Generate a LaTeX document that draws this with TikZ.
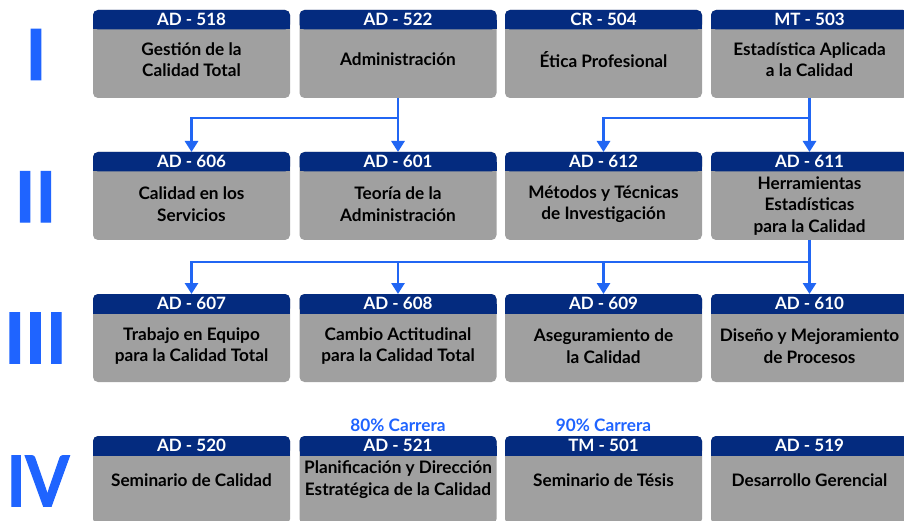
\documentclass[tikz,border=0pt]{standalone}
\usepackage{fontspec}
\setmainfont{Lato}
\newfontfamily\romanfont{Lato}[BoldFeatures={FakeBold=1.6}]
\usetikzlibrary{arrows.meta}
\definecolor{navy}{RGB}{4,43,127}
\definecolor{boxgray}{RGB}{160,160,160}
\definecolor{arrblue}{RGB}{33,102,243}
\definecolor{numblue}{RGB}{31,100,255}
\tikzset{
  cbody/.style={fill=boxgray, rounded corners=5pt, minimum width=197pt, minimum height=88pt, inner sep=0pt, outer sep=0pt, anchor=north},
  chead/.style={fill=navy, rounded corners=5pt, minimum width=197pt, minimum height=19.5pt, inner sep=0pt, outer sep=0pt, anchor=north, text=white, font=\fontsize{17}{20}\selectfont\bfseries},
  ctitle/.style={align=center, inner sep=0pt, text=black, font=\fontsize{17.2}{21.5}\selectfont\bfseries},
  roman/.style={text=numblue, inner sep=0pt, font=\fontsize{70}{70}\selectfont\romanfont\bfseries},
  note/.style={text=numblue, inner sep=0pt, font=\fontsize{17.2}{20}\selectfont\bfseries},
  conn/.style={draw=arrblue, line width=2.8pt, -{Triangle[width=13pt,length=11pt]}}
}
\newcommand\course[6][52]{%
  \node[cbody] (#2) at (#3,#4) {};
  \fill[navy] (#3-98.5,#4+10) rectangle (#3+98.5,#4+19.5);
  \node[chead] (#2h) at (#3,#4) {#5};
  \node[ctitle] (#2t) at (#3,#4+#1) {#6};
}
\begin{document}
\begin{tikzpicture}[x=1pt,y=-1pt]
\useasboundingbox (0,0) rectangle (904,521);
\clip (0,0) rectangle (904,521);
\fill[white] (0,0) rectangle (904,521);
% roman numerals
\node[roman] (r1) at (36,54.5) {I};
\node[roman] (r2) at (35.5,196.7) {II};
\node[roman] (r3) at (35.5,338) {III};
\node[roman, xscale=0.9, transform shape] (r4) at (38,481) {IV};
% row I
\course[49.5]{c518}{191.5}{10}{AD - 518}{Gestión de la\\Calidad Total}
\course[49.5]{c522}{398}{10}{AD - 522}{Administración}
\course[49.5]{c504}{603.5}{10}{CR - 504}{Ética Profesional}
\course[49.5]{c503}{809.5}{10}{MT - 503}{Estadística Aplicada\\a la Calidad}
% row II
\course{c606}{191.5}{152}{AD - 606}{Calidad en los\\Servicios}
\course{c601}{398}{152}{AD - 601}{Teoría de la\\Administración}
\course{c612}{603.5}{152}{AD - 612}{Métodos y Técnicas\\de Investigación}
\course[54]{c611}{809.5}{152}{AD - 611}{Herramientas\\Estadísticas\\para la Calidad}
% row III
\course{c607}{191.5}{294}{AD - 607}{Trabajo en Equipo\\para la Calidad Total}
\course{c608}{398}{294}{AD - 608}{Cambio Actitudinal\\para la Calidad Total}
\course{c609}{603.5}{294}{AD - 609}{Aseguramiento de\\la Calidad}
\course{c610}{809.5}{294}{AD - 610}{Diseño y Mejoramiento\\de Procesos}
% row IV
\course[44]{c520}{191.5}{436}{AD - 520}{Seminario de Calidad}
\course[43.5]{c521}{398}{436}{AD - 521}{Planificación y Dirección\\Estratégica de la Calidad}
\course[44]{c501}{603.5}{436}{TM - 501}{Seminario de Tésis}
\course[44]{c519}{809.5}{436}{AD - 519}{Desarrollo Gerencial}
\node[note] (n80) at (398,425) {80\% Carrera};
\node[note] (n90) at (603.5,425) {90\% Carrera};
% connectors
\draw[conn] (c522.south) -- ++(0,20) -| (c606.north);
\draw[conn] (c522.south) -- (c601.north);
\draw[conn] (c503.south) -- ++(0,20) -| (c612.north);
\draw[conn] (c503.south) -- (c611.north);
\draw[conn] (c611.south) -- ++(0,22) -| (c607.north);
\draw[conn] (c611.south) -- ++(0,22) -| (c608.north);
\draw[conn] (c611.south) -- ++(0,22) -| (c609.north);
\draw[conn] (c611.south) -- (c610.north);
\end{tikzpicture}
\end{document}
